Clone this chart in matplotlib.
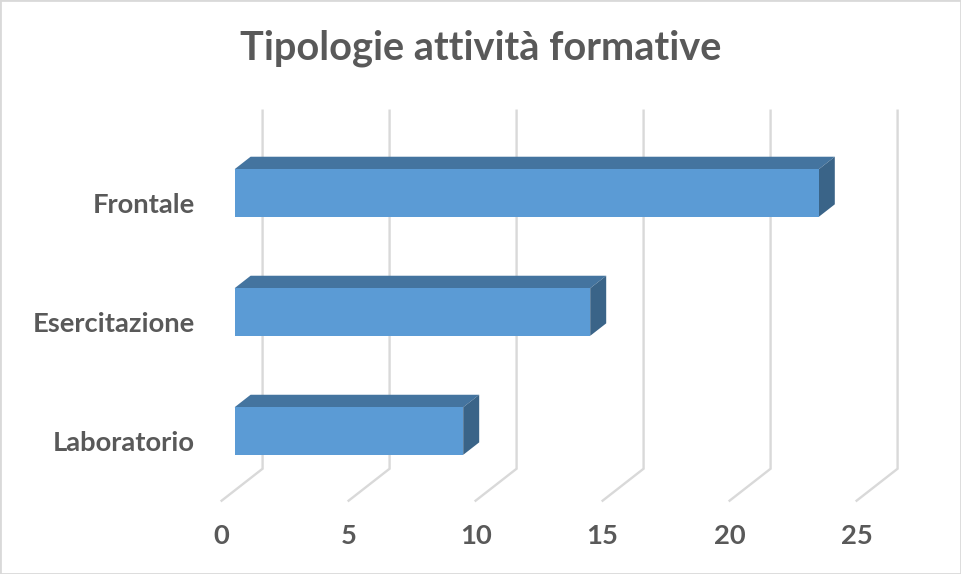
import matplotlib
matplotlib.use('Agg')
import matplotlib.pyplot as plt
import numpy as np

# Chart data
categories = ['Laboratorio', 'Esercitazione', 'Frontale']
values = [9, 14, 23]
x_ticks = [0, 5, 10, 15, 20, 25]

W, H = 961, 574
text_color = '#595959'
grid_color = '#D9D9D9'
front_color = '#5B9BD5'
top_color = '#44749F'
side_color = '#3A6488'

plt.rcParams['font.family'] = ['Lato', 'DejaVu Sans']

fig = plt.figure(figsize=(W / 100, H / 100), dpi=100)
fig.patch.set_facecolor('white')

# Axes is the front plane of the fake 3D box
left, right, bottom, top = 221.6, 856.6, 500.7, 142.7
ax = fig.add_axes([left / W, 1 - bottom / H, (right - left) / W, (bottom - top) / H])
ax.set_xlim(0, 25)
ax.set_ylim(0, len(categories) + 0.008)
ax.patch.set_alpha(0)
for s in ax.spines.values():
    s.set_visible(False)

# Depth shift in data units (1 = full depth of the floor)
px_x = 25 / (right - left)
px_y = (len(categories) + 0.008) / (bottom - top)
def proj(x, y, depth):
    return x + depth * 41 * px_x, y + depth * 32 * px_y

# Gridlines on the back wall and the floor
for t in x_ticks:
    xs, ys = zip(proj(t, 0, 0), proj(t, 0, 1), proj(t, len(categories) + 0.008, 1))
    ax.plot(xs, ys, color=grid_color, lw=1.7, clip_on=False, zorder=1,
            solid_joinstyle='miter')

# Bars: front, top and side faces
d0, d1 = 13 / 41, 29 / 41
bar_h = 0.4
for i, v in enumerate(values):
    y0, y1 = i + 0.5 - bar_h / 2, i + 0.5 + bar_h / 2
    front = [proj(0, y0, d0), proj(v, y0, d0), proj(v, y1, d0), proj(0, y1, d0)]
    upper = [proj(0, y1, d0), proj(v, y1, d0), proj(v, y1, d1), proj(0, y1, d1)]
    side = [proj(v, y0, d0), proj(v, y0, d1), proj(v, y1, d1), proj(v, y1, d0)]
    for face, c in ((upper, top_color), (side, side_color), (front, front_color)):
        ax.fill(*zip(*face), facecolor=c, edgecolor='none', clip_on=False, zorder=3)

ax.set_xticks(x_ticks)
ax.set_yticks(np.arange(len(categories)) + 0.5)
ax.set_yticklabels(categories)
ax.tick_params(axis='both', length=0, labelsize=19.7, labelcolor=text_color)
ax.tick_params(axis='x', pad=17)
ax.tick_params(axis='y', pad=19.5)
for lab in ax.get_xticklabels() + ax.get_yticklabels():
    lab.set_fontweight('bold')

fig.text(481 / W, 1 - 48.5 / H, 'Tipologie attività formative', ha='center', va='center',
         fontsize=28.6, fontweight='bold', color=text_color)

# Thin chart border
fig.add_artist(plt.Rectangle((0, 0), 1, 1, transform=fig.transFigure, fill=False,
                             edgecolor='#D9D9D9', lw=2))

fig.savefig('out.png', dpi=100)
